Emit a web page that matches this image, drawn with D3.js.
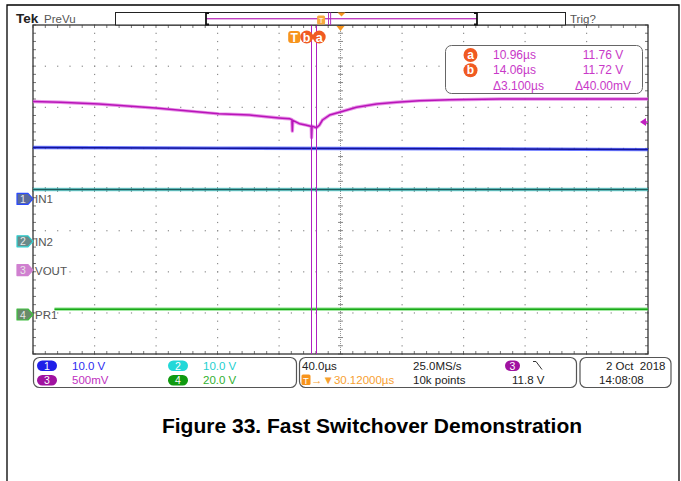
<!DOCTYPE html>
<html lang="en">
<head>
<meta charset="UTF-8">
<title>Figure 33. Fast Switchover Demonstration</title>
<style>
  body { margin: 0; background: #fff; }
  svg text { font-family: "Liberation Sans", Arial, sans-serif; white-space: pre; }
</style>
</head>
<body>
<script src="https://d3js.org/d3.v7.min.js"></script>
<script>
// scope settings
let timePerDiv = 40;          // µs per division
let triggerDelay = 30.12;     // µs, expansion point after trigger
let cursorTimes = [10.96, 14.06];
let triggerLevel = 11.8;      // V on channel 3

// channel 1 (IN1), 10 V/div
let in1Time = [-169.9, -50, 100, 230.1];
let in1Volts = [12.5, 12.35, 12.2, 12.0];
// channel 2 (IN2), 10 V/div
let in2Time = [-169.9, 230.1];
let in2Volts = [12.6, 12.6];
// channel 3 (VOUT), 500 mV/div, 10 V offset
let voutTime = [-169.9, -152, -127, -90, -49, -29, -10, -3, -1.5, -1.2, -0.9, 3.4, 7.3, 10.6, 11.1, 11.3, 11.6, 14.5, 16.5, 18.4, 23, 29.5, 40.5, 53.5, 66.5, 81.5, 101, 134, 166, 199, 230.1];
let voutVolts = [12.05, 12.04, 12.02, 11.97, 11.90, 11.885, 11.85, 11.84, 11.83, 11.69, 11.82, 11.78, 11.765, 11.75, 11.75, 11.61, 11.75, 11.73, 11.765, 11.825, 11.885, 11.92, 11.98, 12.02, 12.04, 12.06, 12.07, 12.08, 12.08, 12.08, 12.08];
// channel 4 (PR1), 20 V/div
let pr1Time = [-155.9, 230.1];
let pr1Volts = [2.6, 2.6];

// channel settings: marker position in divisions, volts/div, offset
let channels = [
  { id: 1, name: "IN1", pos: -0.23, vpd: 10, off: 0, time: in1Time, volts: in1Volts, core: "#14149a", glow: "#3a4cff", mark: "#5b6b9b", edge: "#2a4aff" },
  { id: 2, name: "IN2", pos: -1.26, vpd: 10, off: 0, time: in2Time, volts: in2Volts, core: "#1e5c5c", glow: "#46c8c8", mark: "#6a8a8a", edge: "#30d0d0" },
  { id: 3, name: "VOUT", pos: -1.96, vpd: 0.5, off: 10, time: voutTime, volts: voutVolts, core: "#b814b8", glow: "#e070e0", mark: "#d080d0", edge: "#d080d0" },
  { id: 4, name: "PR1", pos: -3.04, vpd: 20, off: 0, time: pr1Time, volts: pr1Volts, core: "#18a818", glow: "#60d860", mark: "#6a8a6a", edge: "#40c040" }
];

let W = 681, H = 481;
let L = 33, R = 648, T = 25, B = 354;

let svg = d3.select("body").append("svg")
  .attr("width", W).attr("height", H);

// page frame
svg.append("path").attr("d", "M7,481V5H679V481")
  .attr("fill", "none").attr("stroke", "#000").attr("stroke-width", 1.3);

// scales
let x = d3.scaleLinear()
  .domain([triggerDelay - 5 * timePerDiv, triggerDelay + 5 * timePerDiv])
  .range([L, R]);
let xDiv = d3.scaleLinear().domain([-5, 5]).range([L, R]);
let yDiv = d3.scaleLinear().domain([-4, 4]).range([B, T]);
let xRec = d3.scaleLinear().domain(x.domain()).range([206, 477]);

function yOf(ch, v) { return yDiv(ch.pos + (v - ch.off) / ch.vpd); }

// graticule
let grid = svg.append("g");
let minorX = d3.range(-5, 5.001, 0.2);
let minorY = d3.range(-4, 4.001, 0.2);
let dotColor = "#8c8c8c";

[-4, -3, -2, -1, 1, 2, 3, 4].forEach(k => {
  grid.selectAll(null).data(minorY).enter().append("rect")
    .attr("x", xDiv(k) - 0.5).attr("y", d => yDiv(d) - 0.5)
    .attr("width", 1.2).attr("height", 1.2).attr("fill", dotColor);
});
[-3, -2, -1, 1, 2, 3].forEach(k => {
  grid.selectAll(null).data(minorX).enter().append("rect")
    .attr("x", d => xDiv(d) - 0.5).attr("y", yDiv(k) - 0.5)
    .attr("width", 1.2).attr("height", 1.2).attr("fill", dotColor);
});

// center crosshair
grid.append("line").attr("x1", xDiv(0)).attr("x2", xDiv(0)).attr("y1", T).attr("y2", B)
  .attr("stroke", "#999").attr("stroke-dasharray", "1,1");
grid.append("line").attr("x1", L).attr("x2", R).attr("y1", yDiv(0)).attr("y2", yDiv(0))
  .attr("stroke", "#999").attr("stroke-dasharray", "1,1");
grid.selectAll(null).data(minorY).enter().append("line")
  .attr("x1", xDiv(0) - 2.5).attr("x2", xDiv(0) + 2.5)
  .attr("y1", d => yDiv(d)).attr("y2", d => yDiv(d))
  .attr("stroke", "#888");
grid.selectAll(null).data(minorX).enter().append("line")
  .attr("y1", yDiv(0) - 2.5).attr("y2", yDiv(0) + 2.5)
  .attr("x1", d => xDiv(d)).attr("x2", d => xDiv(d))
  .attr("stroke", "#888");

// edge ticks
grid.selectAll(null).data(minorX).enter().append("line")
  .attr("x1", d => xDiv(d)).attr("x2", d => xDiv(d))
  .attr("y1", T).attr("y2", T + 3).attr("stroke", "#777");
grid.selectAll(null).data(minorX).enter().append("line")
  .attr("x1", d => xDiv(d)).attr("x2", d => xDiv(d))
  .attr("y1", B).attr("y2", B - 3).attr("stroke", "#777");
grid.selectAll(null).data(minorY).enter().append("line")
  .attr("y1", d => yDiv(d)).attr("y2", d => yDiv(d))
  .attr("x1", L).attr("x2", L + 3).attr("stroke", "#777");
grid.selectAll(null).data(minorY).enter().append("line")
  .attr("y1", d => yDiv(d)).attr("y2", d => yDiv(d))
  .attr("x1", R).attr("x2", R - 3).attr("stroke", "#777");

// plot border
svg.append("rect").attr("x", L).attr("y", T).attr("width", R - L).attr("height", B - T)
  .attr("fill", "none").attr("stroke", "#333").attr("stroke-width", 1.3);

// traces
let line = d3.line();
channels.slice().reverse().forEach(ch => {
  let pts = ch.time.map((t, i) => [x(t), yOf(ch, ch.volts[i])]);
  svg.append("path").attr("d", line(pts)).attr("fill", "none")
    .attr("stroke", ch.glow).attr("stroke-width", 3.4).attr("stroke-opacity", 0.75)
    .attr("stroke-linejoin", "round");
  svg.append("path").attr("d", line(pts)).attr("fill", "none")
    .attr("stroke", ch.core).attr("stroke-width", 1.5).attr("stroke-linejoin", "round");
});

// cursors
svg.selectAll(".cursor").data(cursorTimes).enter().append("line")
  .attr("class", "cursor")
  .attr("x1", d => Math.round(x(d)) + 0.5).attr("x2", d => Math.round(x(d)) + 0.5)
  .attr("y1", T).attr("y2", B)
  .attr("stroke", "#b020c0").attr("stroke-width", 1);

// trigger / cursor tags at top
let tagY = 37;
let tx0 = x(0);
svg.append("rect").attr("x", tx0 - 6).attr("y", tagY - 6).attr("width", 12).attr("height", 12)
  .attr("rx", 3).attr("fill", "#f7941d");
svg.append("text").attr("x", tx0).attr("y", tagY + 4.5).attr("text-anchor", "middle")
  .attr("font-size", 12).attr("font-weight", "bold").attr("fill", "#fff").text("T");
[["b", tx0 + 12.5], ["a", tx0 + 25]].forEach(([lab, cx]) => {
  svg.append("circle").attr("cx", cx).attr("cy", tagY).attr("r", 6.5).attr("fill", "#f05a22");
  svg.append("text").attr("x", cx).attr("y", tagY + 4.5).attr("text-anchor", "middle")
    .attr("font-size", 12.5).attr("font-weight", "bold").attr("fill", "#fff").text(lab);
});

// expansion point marker
let ex = x(triggerDelay);
svg.append("path").attr("d", `M${ex - 4},${T + 1}H${ex + 4}L${ex},${T + 6}Z`).attr("fill", "#f7941d");

// trigger level arrow on right
let ty = yOf(channels[2], triggerLevel);
svg.append("path").attr("d", `M${R - 8},${ty}L${R - 2},${ty - 4}V${ty + 4}Z`).attr("fill", "#c020c0");
svg.append("line").attr("x1", R - 3).attr("x2", R).attr("y1", ty).attr("y2", ty)
  .attr("stroke", "#c020c0").attr("stroke-width", 1.5);

// channel markers on left
channels.forEach(ch => {
  let my = yDiv(ch.pos);
  svg.append("path")
    .attr("d", `M17,${my - 5.5}H28L33,${my}L28,${my + 5.5}H17Z`)
    .attr("fill", ch.mark).attr("stroke", ch.edge).attr("stroke-width", 1.2)
    .attr("stroke-linejoin", "round");
  svg.append("text").attr("x", 23).attr("y", my + 4).attr("text-anchor", "middle")
    .attr("font-size", 10.5).attr("fill", "#e8e8e8").text(ch.id);
  svg.append("text").attr("x", 35).attr("y", my + 4.5)
    .attr("font-size", 11.5).attr("fill", "#555").text(ch.name);
});

// header
svg.append("text").attr("x", 16).attr("y", 23).attr("font-size", 13.5)
  .attr("font-weight", "bold").attr("fill", "#222").text("Tek");
svg.append("text").attr("x", 44).attr("y", 23).attr("font-size", 11.5)
  .attr("fill", "#555").text("PreVu");
svg.append("text").attr("x", 570).attr("y", 23).attr("font-size", 11.5)
  .attr("fill", "#555").text("Trig?");

// record bar
svg.append("rect").attr("x", 115.5).attr("y", 12.5).attr("width", 450).attr("height", 12.5)
  .attr("fill", "#fff").attr("stroke", "#222");
svg.append("line").attr("x1", xRec.range()[0]).attr("x2", xRec.range()[1]).attr("y1", 18.5).attr("y2", 18.5)
  .attr("stroke", "#c040c0");
svg.append("line").attr("x1", xRec.range()[0]).attr("x2", xRec.range()[1]).attr("y1", 19.5).attr("y2", 19.5)
  .attr("stroke", "#e8b4e8");
xRec.range().forEach((rx, i) => {
  let s = i === 0 ? 1 : -1;
  svg.append("path").attr("d", `M${rx + 3 * s},13V13H${rx}V24.5H${rx + 3 * s}`)
    .attr("fill", "none").attr("stroke", "#111").attr("stroke-width", 1.8);
});
svg.selectAll(".rcur").data(cursorTimes).enter().append("line")
  .attr("class", "rcur")
  .attr("x1", d => xRec(d)).attr("x2", d => xRec(d)).attr("y1", 12.5).attr("y2", 25)
  .attr("stroke", "#b030c0");
let rT = xRec(0);
svg.append("rect").attr("x", rT - 4).attr("y", 15.5).attr("width", 8).attr("height", 9)
  .attr("rx", 1.5).attr("fill", "#f7a840");
svg.append("text").attr("x", rT).attr("y", 23).attr("text-anchor", "middle")
  .attr("font-size", 8).attr("fill", "#fff").text("T");
let rE = xRec(triggerDelay);
svg.append("path").attr("d", `M${rE - 4},12.5H${rE + 4}L${rE},16.5Z`).attr("fill", "#f7941d");

// cursor readout box
let ro = svg.append("g");
ro.append("rect").attr("x", 445.5).attr("y", 45.5).attr("width", 197).attr("height", 48)
  .attr("rx", 6).attr("fill", "#fff").attr("stroke", "#666");
let readRows = [
  { tag: "a", t: "10.96µs", v: "11.76 V" },
  { tag: "b", t: "14.06µs", v: "11.72 V" },
  { tag: null, t: "Δ3.100µs", v: "Δ40.00mV" }
];
readRows.forEach((r, i) => {
  let by = 59 + i * 15.3;
  if (r.tag) {
    ro.append("circle").attr("cx", 470.5).attr("cy", by - 4).attr("r", 7).attr("fill", "#f05a22");
    ro.append("text").attr("x", 470.5).attr("y", by).attr("text-anchor", "middle")
      .attr("font-size", 12).attr("font-weight", "bold").attr("fill", "#fff").text(r.tag);
  }
  ro.append("text").attr("x", 493).attr("y", by).attr("font-size", 12)
    .attr("fill", "#c838c8").text(r.t);
  ro.append("text").attr("x", 603).attr("y", by).attr("text-anchor", "middle")
    .attr("font-size", 12).attr("fill", "#c838c8").text(r.v);
});

// bottom status panels
let bp = svg.append("g");
[[33.5, 263], [299.5, 277], [580, 91]].forEach(([bx, bw]) => {
  bp.append("rect").attr("x", bx).attr("y", 357.5).attr("width", bw).attr("height", 30)
    .attr("rx", 6).attr("fill", "#fff").attr("stroke", "#555").attr("stroke-width", 1.2);
});
let r1 = 369.5, r2 = 384;
let pillInfo = [
  { id: 1, px: 37, py: r1, fill: "#1f1fe8", label: "10.0 V", col: "#2c2cf0" },
  { id: 2, px: 168, py: r1, fill: "#22d8d8", label: "10.0 V", col: "#22d0d0" },
  { id: 3, px: 37, py: r2, fill: "#a012a0", label: "500mV", col: "#c030c0" },
  { id: 4, px: 168, py: r2, fill: "#109a10", label: "20.0 V", col: "#30b030" }
];
pillInfo.forEach(p => {
  bp.append("rect").attr("x", p.px).attr("y", p.py - 9).attr("width", 20).attr("height", 10.5)
    .attr("rx", 5.25).attr("fill", p.fill);
  bp.append("text").attr("x", p.px + 10).attr("y", p.py).attr("text-anchor", "middle")
    .attr("font-size", 10.5).attr("fill", "#fff").text(p.id);
  bp.append("text").attr("x", p.px + 35).attr("y", p.py).attr("font-size", 11.5)
    .attr("fill", p.col).text(p.label);
});
bp.append("text").attr("x", 302).attr("y", r1).attr("font-size", 11.5).attr("fill", "#222").text("40.0µs");
bp.append("text").attr("x", 413).attr("y", r1).attr("font-size", 11.5).attr("fill", "#222").text("25.0MS/s");
bp.append("rect").attr("x", 505).attr("y", r1 - 9).attr("width", 15).attr("height", 10.5)
  .attr("rx", 5.25).attr("fill", "#a012a0");
bp.append("text").attr("x", 512.5).attr("y", r1).attr("text-anchor", "middle")
  .attr("font-size", 10.5).attr("fill", "#fff").text("3");
bp.append("path").attr("d", `M533,${r1 - 8}H536L542,${r1}`).attr("fill", "none")
  .attr("stroke", "#333").attr("stroke-width", 1);
bp.append("rect").attr("x", 301.5).attr("y", r2 - 9.5).attr("width", 9).attr("height", 10.5)
  .attr("rx", 1.5).attr("fill", "#f7941d");
bp.append("text").attr("x", 306).attr("y", r2 - 0.5).attr("text-anchor", "middle")
  .attr("font-size", 9.5).attr("fill", "#fff").text("T");
bp.append("text").attr("x", 311).attr("y", r2).attr("font-size", 11.5).attr("fill", "#f7a030")
  .text("→▼" + triggerDelay.toFixed(5) + "µs");
bp.append("text").attr("x", 413).attr("y", r2).attr("font-size", 11.5).attr("fill", "#222").text("10k points");
bp.append("text").attr("x", 512).attr("y", r2).attr("font-size", 11.5).attr("fill", "#222").text(triggerLevel.toFixed(1) + " V");
bp.append("text").attr("x", 606).attr("y", r1).attr("font-size", 11.5).attr("fill", "#222").text("2 Oct  2018");
bp.append("text").attr("x", 599).attr("y", r2).attr("font-size", 11.5).attr("fill", "#222").text("14:08:08");

// caption
svg.append("text").attr("x", 372).attr("y", 433).attr("text-anchor", "middle")
  .attr("font-size", 21).attr("font-weight", "bold").attr("fill", "#000")
  .text("Figure 33. Fast Switchover Demonstration");
</script>
</body>
</html>
